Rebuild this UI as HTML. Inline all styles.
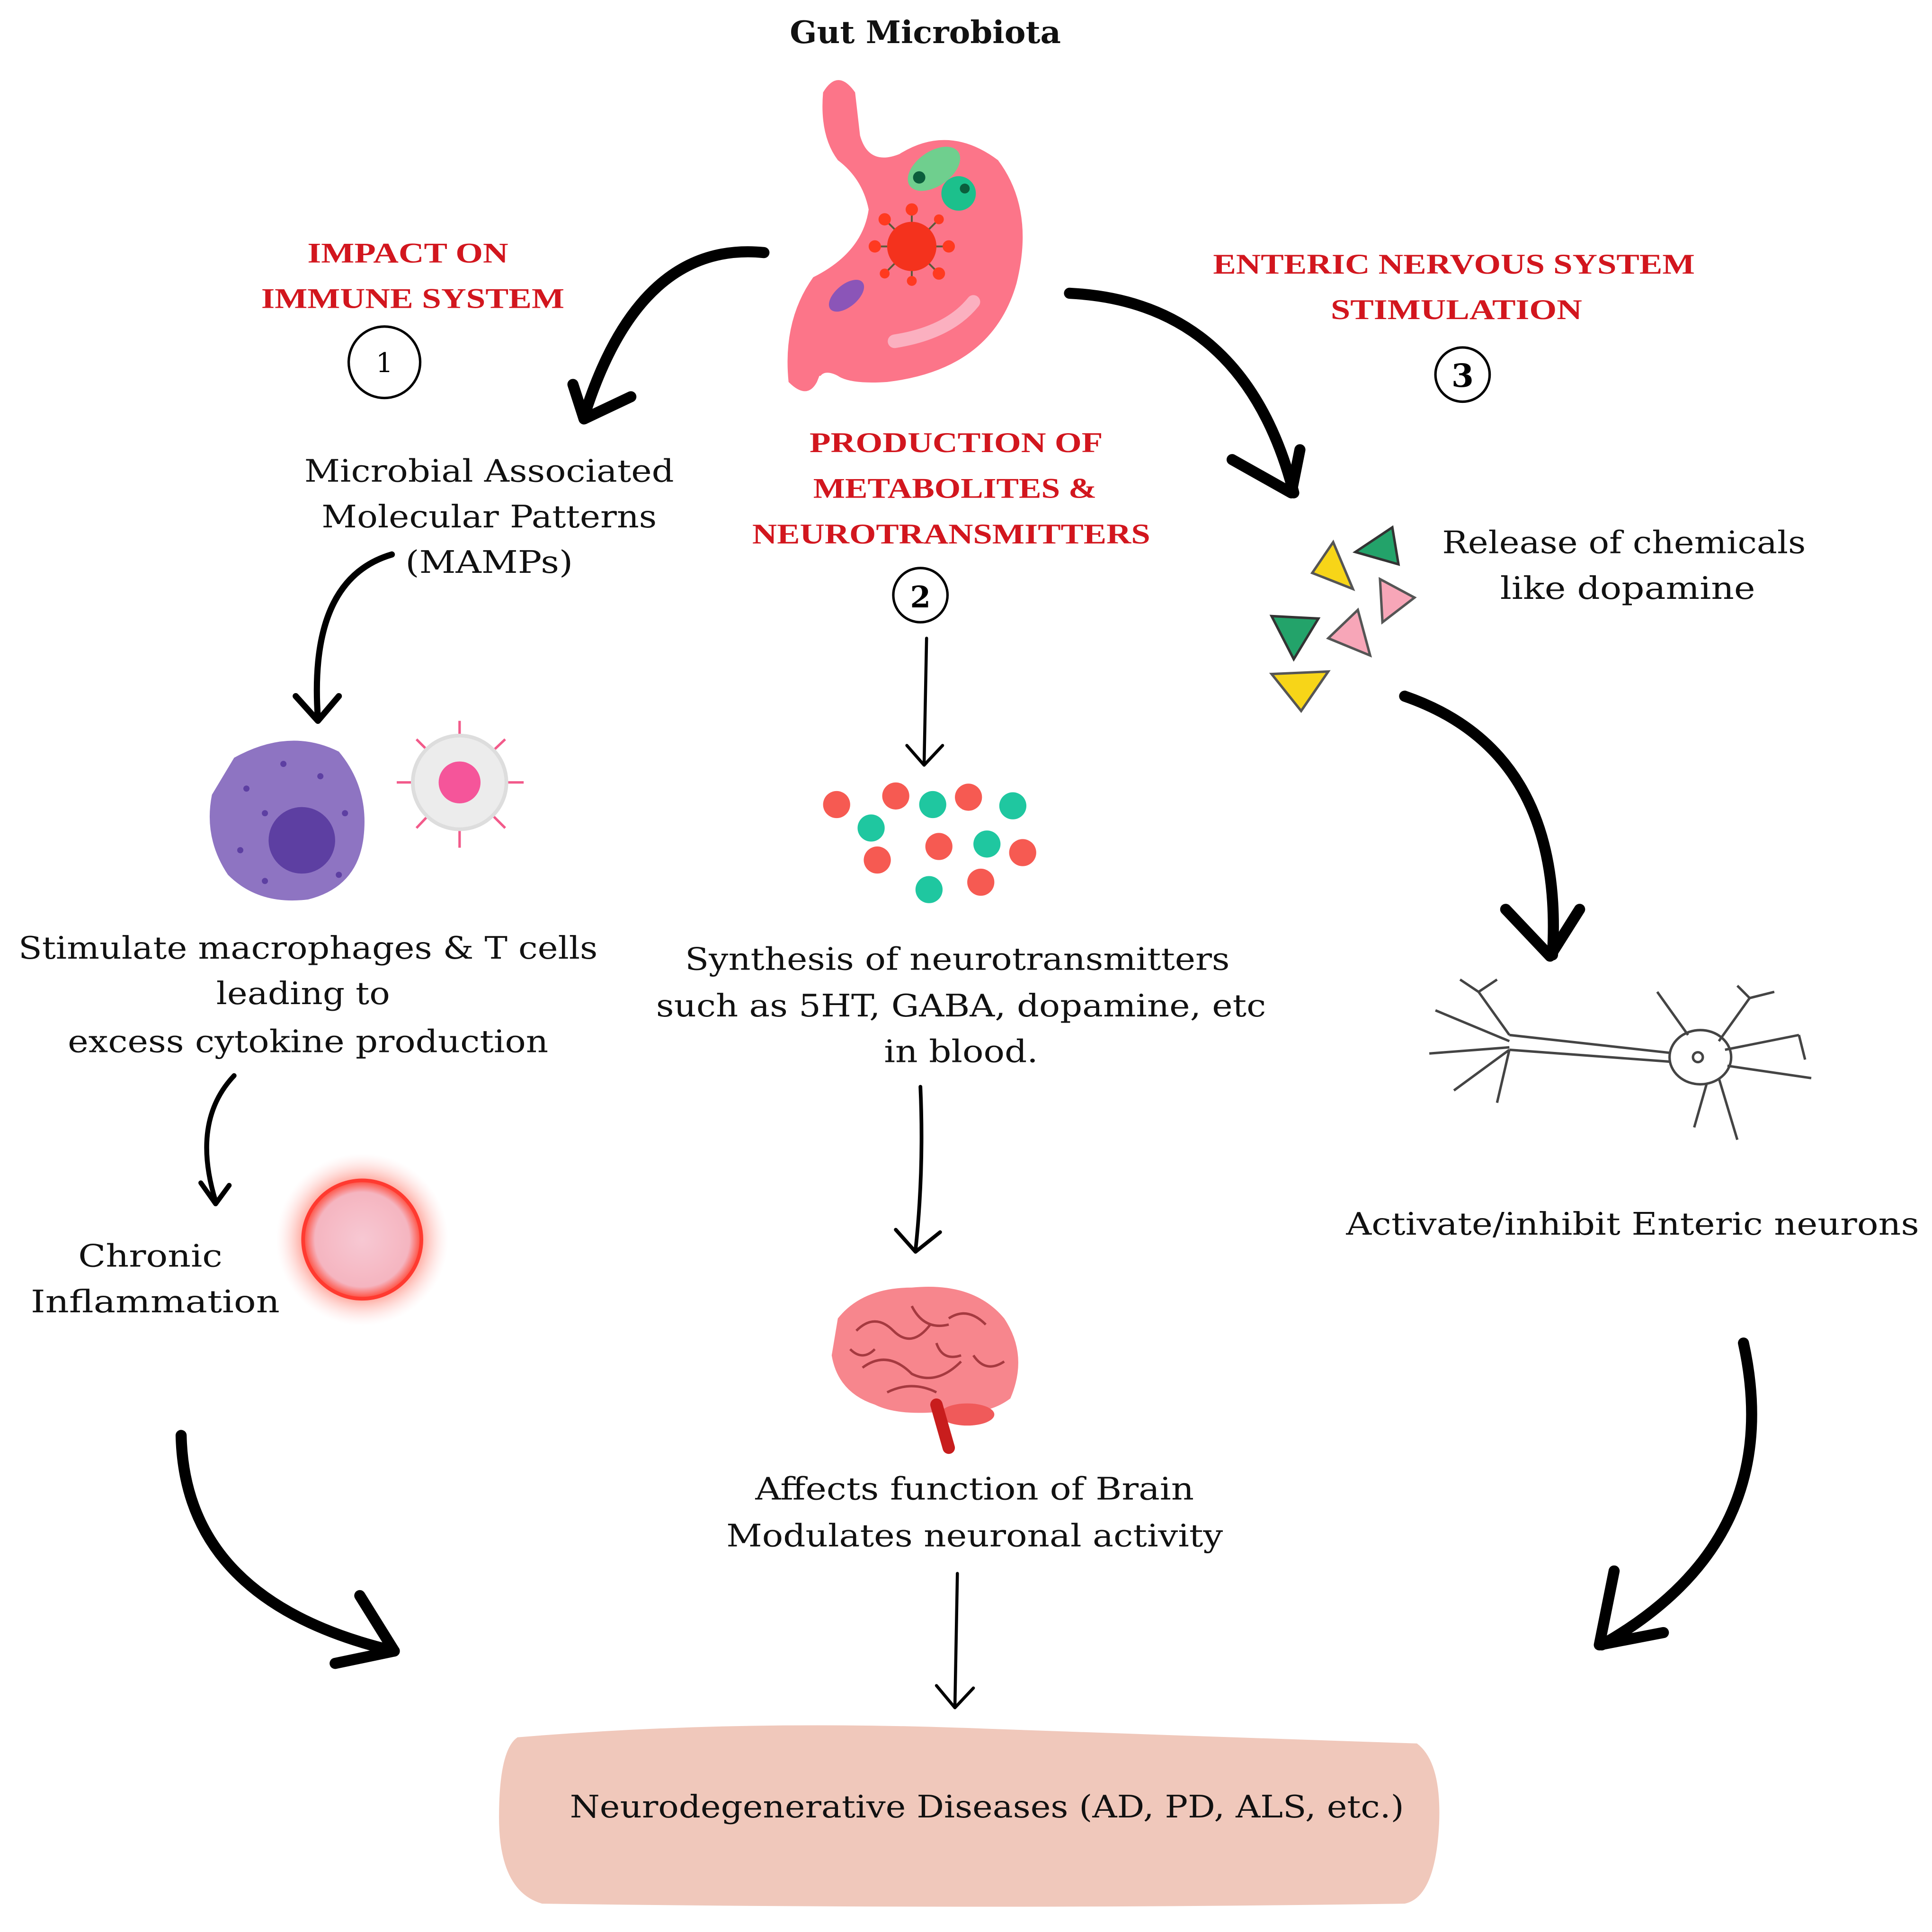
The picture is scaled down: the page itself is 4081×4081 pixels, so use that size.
<!DOCTYPE html>
<html><head><meta charset="utf-8"><style>
html,body{margin:0;padding:0;background:#fff}
svg{display:block}
text{font-family:"DejaVu Serif","Liberation Serif",serif}
.b{font-size:25px;fill:#111;text-anchor:middle}
.r{font-size:23px;fill:#d2161e;text-anchor:middle;font-family:"Liberation Serif",serif;font-weight:bold}
.a{fill:none;stroke:#000;stroke-linecap:round;stroke-linejoin:round}
</style></head><body>
<svg width="4081" height="4081" viewBox="0 0 1568 1568" xmlns="http://www.w3.org/2000/svg">
<rect width="1568" height="1568" fill="#fff"/>
<defs>
<radialGradient id="glow"><stop offset="0.5" stop-color="#ff3b2a"/><stop offset="0.7" stop-color="#ff7a6a" stop-opacity="0.6"/><stop offset="1" stop-color="#ffd0d0" stop-opacity="0"/></radialGradient>
<radialGradient id="inner"><stop offset="0" stop-color="#f7c8d3"/><stop offset="0.8" stop-color="#f5b5c0"/><stop offset="1" stop-color="#ff4a3a"/></radialGradient>
</defs>

<text x="751" y="35" class="b" font-weight="bold" font-size="25" textLength="220" lengthAdjust="spacingAndGlyphs">Gut Microbiota</text>

<!-- stomach -->
<g fill="#fc7589">
<path d="M668,75 Q680,55 694,75 L698,110 Q705,135 730,125 Q770,100 810,130 Q840,170 825,230 Q805,300 720,310 Q690,312 680,305 Q670,300 666,305 L665,305 L663,310 Q655,325 640,310 Q635,260 660,225 Q700,205 705,170 Q700,145 680,130 Q665,110 668,75 Z"/>
</g>
<path d="M726,277 Q770,270 790,245" stroke="#fbb0c0" stroke-width="11" fill="none" stroke-linecap="round"/>
<ellipse cx="758" cy="137" rx="24" ry="14" transform="rotate(-35 758 137)" fill="#6fcf8e"/>
<circle cx="746" cy="144" r="5" fill="#0b5e3c"/>
<circle cx="778" cy="157" r="14" fill="#1cc08c"/>
<circle cx="783" cy="153" r="4" fill="#0b5e3c"/>
<g stroke="#5a5a3a" stroke-width="1.5">
<line x1="740" y1="200" x2="710" y2="200"/><line x1="740" y1="200" x2="770" y2="200"/><line x1="740" y1="200" x2="740" y2="170"/><line x1="740" y1="200" x2="740" y2="228"/>
<line x1="740" y1="200" x2="718" y2="178"/><line x1="740" y1="200" x2="762" y2="178"/><line x1="740" y1="200" x2="718" y2="222"/><line x1="740" y1="200" x2="762" y2="222"/>
</g>
<g fill="#ff3a20"><circle cx="710" cy="200" r="5"/><circle cx="770" cy="200" r="5"/><circle cx="740" cy="170" r="5"/><circle cx="740" cy="228" r="4"/><circle cx="718" cy="178" r="5"/><circle cx="762" cy="178" r="4"/><circle cx="718" cy="222" r="4"/><circle cx="762" cy="222" r="5"/></g>
<circle cx="740" cy="200" r="20" fill="#f4321d"/>
<ellipse cx="687" cy="240" rx="17" ry="9" transform="rotate(-40 687 240)" fill="#8b55b8"/>

<!-- arrows big -->
<path class="a" stroke-width="9" d="M620,205 Q520,195 475,335"/>
<path class="a" stroke-width="9" d="M465,312 L474,340 L512,322"/>
<path class="a" stroke-width="9" d="M868,238 Q1010,245 1050,400"/>
<path class="a" stroke-width="9" d="M1000,373 L1048,400 L1055,365"/>

<text class="r" x="331" y="213" textLength="163" lengthAdjust="spacingAndGlyphs">IMPACT ON</text>
<text class="r" x="335" y="250" textLength="246" lengthAdjust="spacingAndGlyphs">IMMUNE SYSTEM</text>
<circle cx="312" cy="294" r="29" fill="none" stroke="#000" stroke-width="2"/>
<text x="312" y="302" font-size="22" text-anchor="middle" font-family="Liberation Sans,sans-serif">1</text>

<text class="r" x="1180" y="222" textLength="391" lengthAdjust="spacingAndGlyphs">ENTERIC NERVOUS SYSTEM</text>
<text class="r" x="1182" y="259" textLength="204" lengthAdjust="spacingAndGlyphs">STIMULATION</text>
<circle cx="1187" cy="304" r="22" fill="none" stroke="#000" stroke-width="2"/>
<text x="1187" y="314" font-size="26" text-anchor="middle" font-family="Liberation Sans,sans-serif" font-weight="bold">3</text>

<text class="r" x="776" y="367" textLength="238" lengthAdjust="spacingAndGlyphs">PRODUCTION OF</text>
<text class="r" x="775" y="404" textLength="230" lengthAdjust="spacingAndGlyphs">METABOLITES &amp;</text>
<text class="r" x="772" y="441" textLength="323" lengthAdjust="spacingAndGlyphs">NEUROTRANSMITTERS</text>
<circle cx="747" cy="483" r="22" fill="none" stroke="#000" stroke-width="2"/>
<text x="747" y="493" font-size="24" text-anchor="middle" font-family="Liberation Sans,sans-serif" font-weight="bold">2</text>

<!-- left column -->
<text class="b" x="397" y="391" textLength="300" lengthAdjust="spacingAndGlyphs">Microbial Associated</text>
<text class="b" x="397" y="428" textLength="272" lengthAdjust="spacingAndGlyphs">Molecular Patterns</text>
<text class="b" x="397" y="465" textLength="136" lengthAdjust="spacingAndGlyphs">(MAMPs)</text>
<path class="a" stroke-width="5" d="M318,450 Q250,470 258,583"/>
<path class="a" stroke-width="5" d="M240,565 L258,585 L275,565"/>

<path d="M190,615 Q235,590 275,610 Q300,640 295,680 Q290,720 250,730 Q210,735 185,710 Q165,680 172,645 Z" fill="#8e74c2"/>
<circle cx="245" cy="682" r="27" fill="#5d3fa2"/>
<g fill="#5d3fa2"><circle cx="200" cy="640" r="2.5"/><circle cx="215" cy="660" r="2.5"/><circle cx="260" cy="630" r="2.5"/><circle cx="280" cy="660" r="2.5"/><circle cx="195" cy="690" r="2.5"/><circle cx="230" cy="620" r="2.5"/><circle cx="275" cy="710" r="2.5"/><circle cx="215" cy="715" r="2.5"/></g>
<g stroke="#f25a8a" stroke-width="2">
<line x1="373" y1="635" x2="373" y2="585"/><line x1="373" y1="635" x2="373" y2="688"/><line x1="373" y1="635" x2="322" y2="635"/><line x1="373" y1="635" x2="425" y2="635"/>
<line x1="373" y1="635" x2="338" y2="600"/><line x1="373" y1="635" x2="410" y2="600"/><line x1="373" y1="635" x2="338" y2="672"/><line x1="373" y1="635" x2="410" y2="672"/></g>
<circle cx="373" cy="635" r="38" fill="#ececec" stroke="#ddd" stroke-width="3"/>
<circle cx="373" cy="635" r="17" fill="#f5559a"/>

<text class="b" x="250" y="778" textLength="470" lengthAdjust="spacingAndGlyphs">Stimulate macrophages &amp; T cells</text>
<text class="b" x="246" y="815" textLength="141" lengthAdjust="spacingAndGlyphs">leading to</text>
<text class="b" x="250" y="854" textLength="390" lengthAdjust="spacingAndGlyphs">excess cytokine production</text>
<path class="a" stroke-width="4" d="M190,873 Q155,910 175,975"/>
<path class="a" stroke-width="4" d="M163,960 L175,977 L186,962"/>

<text class="b" x="122" y="1028" textLength="117" lengthAdjust="spacingAndGlyphs">Chronic</text>
<text class="b" x="126" y="1065" textLength="202" lengthAdjust="spacingAndGlyphs">Inflammation</text>
<circle cx="294" cy="1006" r="70" fill="url(#glow)"/>
<circle cx="294" cy="1006" r="48" fill="url(#inner)" stroke="#ff3a30" stroke-width="3"/>

<path class="a" stroke-width="9" d="M147,1165 Q150,1300 320,1340"/>
<path class="a" stroke-width="9" d="M292,1295 L320,1340 L272,1350"/>

<!-- center column -->
<path class="a" stroke-width="2.5" d="M752,518 L750,620"/>
<path class="a" stroke-width="2.5" d="M736,605 L750,621 L765,605"/>
<g fill="#f65a52"><circle cx="679" cy="653" r="11"/><circle cx="727" cy="646" r="11"/><circle cx="786" cy="647" r="11"/><circle cx="712" cy="698" r="11"/><circle cx="762" cy="687" r="11"/><circle cx="830" cy="692" r="11"/><circle cx="796" cy="716" r="11"/></g>
<g fill="#1fc7a0"><circle cx="757" cy="653" r="11"/><circle cx="822" cy="654" r="11"/><circle cx="707" cy="672" r="11"/><circle cx="801" cy="685" r="11"/><circle cx="754" cy="722" r="11"/></g>

<text class="b" x="777" y="787" textLength="442" lengthAdjust="spacingAndGlyphs">Synthesis of neurotransmitters</text>
<text class="b" x="780" y="825" textLength="495" lengthAdjust="spacingAndGlyphs">such as 5HT, GABA, dopamine, etc</text>
<text class="b" x="780" y="862" textLength="125" lengthAdjust="spacingAndGlyphs">in blood.</text>
<path class="a" stroke-width="3" d="M747,882 Q750,950 743,1015"/>
<path class="a" stroke-width="3" d="M727,998 L743,1016 L763,1000"/>

<path d="M680,1070 Q700,1045 740,1045 Q790,1040 815,1070 Q835,1100 820,1135 Q800,1150 770,1145 Q730,1150 710,1140 Q680,1130 675,1100 Z" fill="#f7868d"/>
<ellipse cx="785" cy="1148" rx="22" ry="9" fill="#f05a5a"/>
<path d="M760,1140 L770,1175" stroke="#c81d1d" stroke-width="10" stroke-linecap="round"/>
<path d="M695,1080 q15,-15 30,0 q15,15 30,-5 M700,1110 q20,-15 40,5 q20,10 40,-10 M740,1060 q10,20 30,15 M720,1130 q20,-10 40,0 M690,1095 q10,10 20,0 M770,1070 q15,-10 30,5 M790,1100 q10,15 25,5 M760,1090 q5,15 20,10" stroke="#a53a40" stroke-width="2" fill="none"/>

<text class="b" x="791" y="1217" textLength="356" lengthAdjust="spacingAndGlyphs">Affects function of Brain</text>
<text class="b" x="791" y="1255" textLength="403" lengthAdjust="spacingAndGlyphs">Modulates neuronal activity</text>
<path class="a" stroke-width="2.5" d="M777,1277 L775,1385"/>
<path class="a" stroke-width="2.5" d="M760,1368 L775,1386 L790,1370"/>

<!-- right column -->
<polygon points="1082,440 1065,465 1098,478" fill="#f7d518" stroke="#555" stroke-width="2"/>
<polygon points="1130,428 1100,448 1135,458" fill="#23a36a" stroke="#333" stroke-width="2"/>
<polygon points="1120,470 1148,485 1122,505" fill="#f7a6b8" stroke="#555" stroke-width="2"/>
<polygon points="1032,500 1070,502 1050,535" fill="#23a36a" stroke="#333" stroke-width="2"/>
<polygon points="1102,495 1078,518 1112,532" fill="#f7a6b8" stroke="#555" stroke-width="2"/>
<polygon points="1032,547 1078,545 1056,577" fill="#f7d518" stroke="#555" stroke-width="2"/>

<text class="b" x="1318" y="449" textLength="295" lengthAdjust="spacingAndGlyphs">Release of chemicals</text>
<text class="b" x="1321" y="486" textLength="207" lengthAdjust="spacingAndGlyphs">like dopamine</text>

<path class="a" stroke-width="9" d="M1140,565 Q1270,610 1260,775"/>
<path class="a" stroke-width="9" d="M1222,738 L1258,776 L1282,738"/>

<g stroke="#444" stroke-width="2" fill="none">
<path d="M1225,840 L1360,855 M1225,852 L1360,862"/>
<ellipse cx="1380" cy="858" rx="25" ry="22" fill="#fff"/>
<path d="M1225,840 L1200,805 M1225,845 L1165,820 M1225,850 L1160,855 M1225,852 L1180,885 M1225,852 L1215,895 M1200,805 L1185,795 M1200,805 L1215,795"/>
<path d="M1395,845 L1420,810 M1400,852 L1460,840 M1402,865 L1470,875 M1395,875 L1410,925 M1385,880 L1375,915 M1370,840 L1345,805 M1420,810 L1410,800 M1420,810 L1440,805 M1460,840 L1465,860"/>
<circle cx="1378" cy="858" r="4"/>
</g>

<text class="b" x="1325" y="1002" textLength="465" lengthAdjust="spacingAndGlyphs">Activate/inhibit Enteric neurons</text>

<path class="a" stroke-width="9" d="M1415,1090 Q1450,1250 1300,1335"/>
<path class="a" stroke-width="9" d="M1310,1275 L1298,1335 L1350,1325"/>

<!-- bottom -->
<path d="M420,1410 Q600,1395 800,1403 Q1000,1410 1150,1415 Q1170,1430 1168,1480 Q1165,1540 1140,1545 Q800,1550 440,1545 Q405,1535 405,1475 Q405,1420 420,1410 Z" fill="#f0c8bb"/>
<text class="b" x="801" y="1475" textLength="677" lengthAdjust="spacingAndGlyphs">Neurodegenerative Diseases (AD, PD, ALS, etc.)</text>
</svg>
</body></html>
